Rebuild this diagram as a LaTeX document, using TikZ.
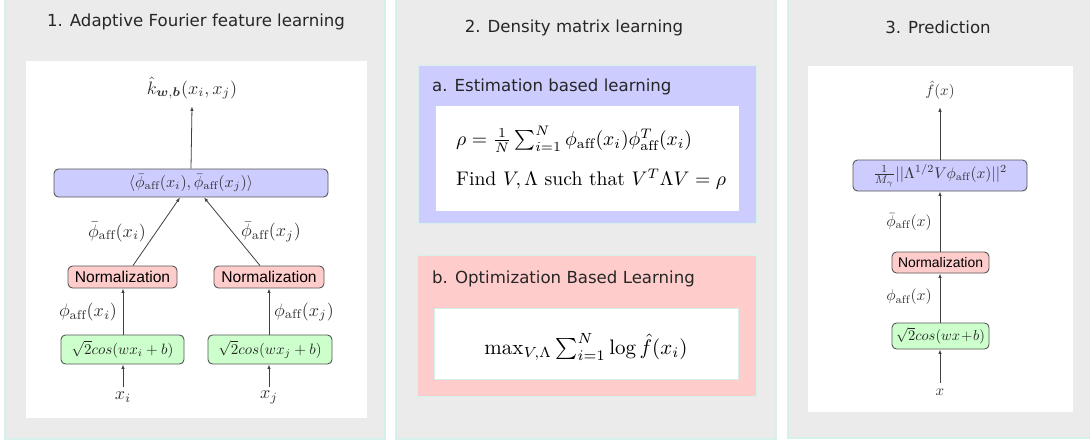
\documentclass[tikz,border=0pt]{standalone}
\usepackage{amsmath}
\usepackage{graphicx}
\usepackage{fontspec}
\newfontfamily\titlefont{DejaVu Sans}
\newfontfamily\normfont{Liberation Sans}
\usetikzlibrary{arrows.meta}
\definecolor{panelfill}{HTML}{EBEBEB}
\definecolor{panelline}{HTML}{D6F0EB}
\definecolor{bluefill}{HTML}{CCCCFF}
\definecolor{pinkfill}{HTML}{FFCCCC}
\definecolor{greenfill}{HTML}{CCFFCC}
\definecolor{boxline}{HTML}{555555}
\definecolor{labtext}{HTML}{333333}
\newcommand{\sz}[2]{\scalebox{#1}{#2}}
\tikzset{
  panel/.style={fill=panelfill, draw=panelline, line width=1.2pt},
  whitebg/.style={fill=white, draw=none},
  ptitle/.style={font=\titlefont\fontsize{16.6}{18}\selectfont, text=black!85, inner sep=0pt},
  sub/.style={font=\titlefont\fontsize{16.6}{18}\selectfont, text=black!85, inner sep=0pt, anchor=west},
  rbox/.style={draw=boxline, line width=0.9pt, rounded corners=4.5pt, inner sep=0pt, text=labtext},
  bluebox/.style={rbox, fill=bluefill},
  pinkbox/.style={rbox, fill=pinkfill, font=\normfont\fontsize{15.6}{17}\selectfont, text=black},
  pinkboxs/.style={rbox, fill=pinkfill, font=\normfont\fontsize{13.9}{15}\selectfont, text=black},
  greenbox/.style={rbox, fill=greenfill, text=black!85},
  mlab/.style={inner sep=0pt, text=labtext},
  conn/.style={draw=black!75, line width=0.8pt, -{Latex[length=4.5pt,width=3.4pt]}},
}
\begin{document}
\begin{tikzpicture}[x=1pt,y=-1pt]
\useasboundingbox (0,0) rectangle (1090,440);
% panels
\path[panel] (5,-5) rectangle (385,439);
\path[panel] (396,-5) rectangle (776,439);
\path[panel] (788,-5) rectangle (1095,438);
% titles
\node[ptitle] (t1) at (196,22) {1. Adaptive Fourier feature learning};
\node[ptitle] (t2) at (574,28) {2. Density matrix learning};
\node[ptitle] (t3) at (938,27) {3. Prediction};

% ---------- panel 1 ----------
\path[whitebg] (26,61) rectangle (367,418);
\node[mlab] (khat) at (192,88) {\sz{1.8}{$\hat{k}_{\boldsymbol{w},\boldsymbol{b}}(x_i,x_j)$}};
\node[bluebox, minimum width=274pt, minimum height=28pt] (inner) at (191,183) {\sz{1.6}{$\langle\bar{\phi}_{\mathrm{aff}}(x_i),\bar{\phi}_{\mathrm{aff}}(x_j)\rangle$}};
\node[pinkbox, minimum width=109pt, minimum height=22pt] (normL) at (122.5,277) {Normalization};
\node[pinkbox, minimum width=110pt, minimum height=22pt] (normR) at (269,277) {Normalization};
\node[greenbox, minimum width=123pt, minimum height=29pt] (rffL) at (122.5,349.5) {\sz{1.5}{$\sqrt{2}cos(wx_i+b)$}};
\node[greenbox, minimum width=124pt, minimum height=29pt] (rffR) at (270,349.5) {\sz{1.5}{$\sqrt{2}cos(wx_j+b)$}};
\node[mlab] (xi) at (123,397) {\sz{1.8}{$x_i$}};
\node[mlab] (xj) at (269,397) {\sz{1.8}{$x_j$}};
\node[mlab] (lbi) at (117,232) {\sz{1.8}{$\bar{\phi}_{\mathrm{aff}}(x_i)$}};
\node[mlab] (lbj) at (271,232) {\sz{1.8}{$\bar{\phi}_{\mathrm{aff}}(x_j)$}};
\node[mlab] (lpi) at (88,312) {\sz{1.8}{$\phi_{\mathrm{aff}}(x_i)$}};
\node[mlab] (lpj) at (304,312) {\sz{1.8}{$\phi_{\mathrm{aff}}(x_j)$}};
\coordinate (xiTop) at (123,387);
\coordinate (xjTop) at (269,387);
\draw[conn] (xiTop) -- (rffL.south -| xiTop);
\draw[conn] (xjTop) -- (rffR.south -| xjTop);
\draw[conn] (rffL.north -| xiTop) -- (normL.south -| xiTop);
\draw[conn] (rffR.north -| xjTop) -- (normR.south -| xjTop);
\draw[conn] ([xshift=10.5pt]normL.north) -- ([xshift=-11pt]inner.south);
\draw[conn] ([xshift=-9pt]normR.north) -- ([xshift=13pt]inner.south);
\draw[conn] (inner.north) -- ([yshift=-7pt]khat.south);

% ---------- panel 2 ----------
\path[fill=bluefill, draw=panelline, line width=0.8pt] (418,65) rectangle (756,223);
\node[sub] (suba) at (432,87) {a. Estimation based learning};
\path[fill=white] (436,106) rectangle (739,211);
\node[mlab, anchor=west, text=black] (eq1) at (456,139) {\sz{1.97}{$\rho=\frac{1}{N}\sum_{i=1}^{N}\phi_{\mathrm{aff}}(x_i)\phi^{T}_{\mathrm{aff}}(x_i)$}};
\node[mlab, anchor=west, text=black] (eq2) at (456,179) {\sz{1.97}{Find $V,\Lambda$ such that $V^{T}\Lambda V=\rho$}};
\path[fill=pinkfill, draw=panelline, line width=0.8pt] (417,255) rectangle (756,396);
\node[sub] (subb) at (432,279) {b. Optimization Based Learning};
\path[fill=white, draw=panelline, line width=1pt] (434,308) rectangle (738,379);
\node[mlab, text=black] (eq3) at (586,347) {\sz{2.1}{$\max_{V,\Lambda}\sum_{i=1}^{N}\log\hat{f}(x_i)$}};

% ---------- panel 3 ----------
\path[whitebg] (808,66) rectangle (1073,412);
\node[mlab] (fhat) at (940,90) {\sz{1.5}{$\hat{f}(x)$}};
\node[bluebox, minimum width=174pt, minimum height=31pt] (score) at (940,175.5) {\sz{1.55}{$\frac{1}{M_\gamma}||\Lambda^{1/2}V\phi_{\mathrm{aff}}(x)||^2$}};
\node[pinkboxs, minimum width=97pt, minimum height=21pt] (norm3) at (940.5,262.5) {Normalization};
\node[greenbox, minimum width=97pt, minimum height=26pt] (rff3) at (940.5,336) {\sz{1.45}{$\sqrt{2}cos(wx\!+\!b)$}};
\node[mlab] (x3) at (940,392) {\sz{1.5}{$x$}};
\node[mlab] (lb3) at (909,222) {\sz{1.57}{$\bar{\phi}_{\mathrm{aff}}(x)$}};
\node[mlab] (lp3) at (909,297) {\sz{1.57}{$\phi_{\mathrm{aff}}(x)$}};
\coordinate (x3Top) at (940,383);
\draw[conn] (x3Top) -- (rff3.south -| x3Top);
\draw[conn] (rff3.north -| x3Top) -- (norm3.south -| x3Top);
\draw[conn] (norm3.north -| x3Top) -- (score.south -| x3Top);
\draw[conn] (score.north -| x3Top) -- ([yshift=-8pt]fhat.south);
\end{tikzpicture}
\end{document}
